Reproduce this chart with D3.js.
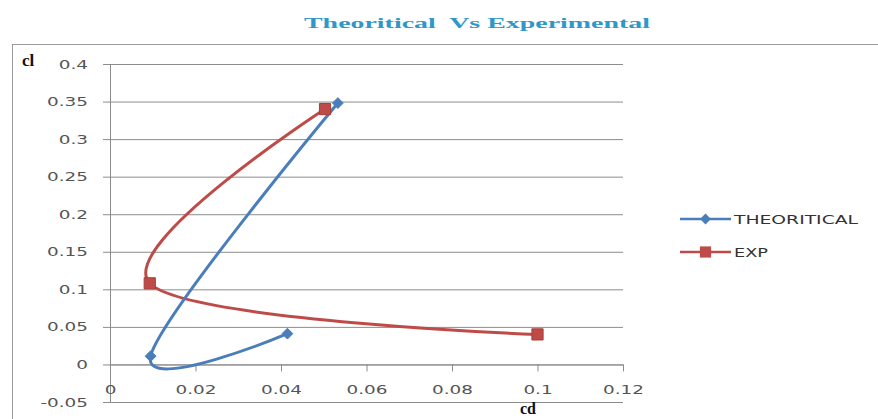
<!DOCTYPE html>
<html>
<head>
<meta charset="utf-8">
<script src="https://cdn.jsdelivr.net/npm/d3@7"></script>
<style>
  html, body { margin: 0; padding: 0; background: #ffffff; }
  svg { display: block; }
  text { white-space: pre; }
</style>
</head>
<body>
<svg id="chart" width="878" height="419"></svg>
<script>
// ---- chart data ----
const chartTitle = "Theoritical  Vs Experimental";
const seriesNames = ["THEORITICAL", "EXP"];
const theoCd = [0.0415, 0.0095, 0.0533];
const theoCl = [0.041, 0.011, 0.348];
const expCd  = [0.1, 0.0093, 0.0503];
const expCl  = [0.04, 0.108, 0.34];
const xTicks = [0, 0.02, 0.04, 0.06, 0.08, 0.1, 0.12];
const yTicks = [-0.05, 0, 0.05, 0.1, 0.15, 0.2, 0.25, 0.3, 0.35, 0.4];
const xTickLabels = ["0", "0.02", "0.04", "0.06", "0.08", "0.1", "0.12"];
const yTickLabels = ["-0.05", "0", "0.05", "0.1", "0.15", "0.2", "0.25", "0.3", "0.35", "0.4"];
const xAxisTitle = "cd";
const yAxisTitle = "cl";

// ---- drawing ----
const svg = d3.select("#chart");
const blue = "#4a7ebb", red = "#be4b48", grid = "#8c8c8c";
const labelFont = "'DejaVu Sans', Verdana, sans-serif";
const serifFont = "'Liberation Serif', 'Times New Roman', serif";

const x = d3.scaleLinear().domain([0, 0.12]).range([110, 623]);
const y = d3.scaleLinear().domain([-0.05, 0.4]).range([402, 64]);

// outer chart frame
svg.append("rect")
  .attr("x", 12.5).attr("y", 44.5).attr("width", 900).attr("height", 420)
  .attr("fill", "none").attr("stroke", "#9a9a9a").attr("stroke-width", 1);

// title
svg.append("text")
  .attr("x", 304).attr("y", 28)
  .attr("textLength", 346).attr("lengthAdjust", "spacingAndGlyphs")
  .attr("font-family", serifFont).attr("font-weight", "bold")
  .attr("font-size", 15).attr("fill", "#2f98c8")
  .text(chartTitle);

// horizontal gridlines
svg.append("g")
  .attr("transform", `translate(${x(0)},0)`)
  .call(d3.axisLeft(y).tickValues(yTicks).tickSize(-(x(0.12) - x(0))).tickFormat(""))
  .call(g => g.select(".domain").remove())
  .call(g => g.selectAll(".tick line").attr("stroke", grid));

// y axis with labels
const yAxis = svg.append("g")
  .attr("transform", `translate(${x(0)},0)`)
  .call(d3.axisLeft(y).tickValues(yTicks).tickSize(7).tickSizeOuter(0).tickPadding(15)
        .tickFormat((d, i) => yTickLabels[i]));
yAxis.select(".domain").attr("stroke", grid);
yAxis.selectAll(".tick line").attr("stroke", grid);
const yText = yAxis.selectAll(".tick text")
  .attr("font-family", labelFont).attr("font-size", 12.5).attr("fill", "#555");

// x axis crossing at cl = 0
const xAxis = svg.append("g")
  .attr("transform", `translate(0,${y(0)})`)
  .call(d3.axisBottom(x).tickValues(xTicks).tickSize(7).tickSizeOuter(0).tickPadding(14)
        .tickFormat((d, i) => xTickLabels[i]));
xAxis.select(".domain").attr("stroke", grid);
xAxis.selectAll(".tick line").attr("stroke", grid);
const xText = xAxis.selectAll(".tick text")
  .attr("font-family", labelFont).attr("font-size", 12.5).attr("fill", "#555");

// wide lettering: a "0.35" label spans about 41px
const probe = yText.filter((d, i) => yTickLabels[i] === "0.35").node();
const stretch = probe ? 41 / probe.getComputedTextLength() : 1.4;
yText.attr("x", -22 / stretch).attr("transform", `scale(${stretch},1)`);
xText.attr("transform", `scale(${stretch},1)`);

// axis titles
svg.append("text").attr("x", 22).attr("y", 66)
  .attr("font-family", serifFont).attr("font-weight", "bold").attr("font-size", 17)
  .attr("fill", "#111").text(yAxisTitle);
svg.append("text").attr("x", 520).attr("y", 414)
  .attr("font-family", serifFont).attr("font-weight", "bold").attr("font-size", 16)
  .attr("fill", "#111").text(xAxisTitle);

// smoothed series lines
const theo = theoCd.map((d, i) => [d, theoCl[i]]);
const exp  = expCd.map((d, i) => [d, expCl[i]]);
const line = d3.line().x(d => x(d[0])).y(d => y(d[1])).curve(d3.curveCardinal.tension(0));

svg.append("path").attr("d", line(exp)).attr("fill", "none")
  .attr("stroke", red).attr("stroke-width", 3).attr("stroke-linejoin", "round");
svg.append("path").attr("d", line(theo)).attr("fill", "none")
  .attr("stroke", blue).attr("stroke-width", 3).attr("stroke-linejoin", "round");

const diamond = d3.symbol().type(d3.symbolDiamond2).size(75);
const square = d3.symbol().type(d3.symbolSquare2).size(160);

svg.append("g").selectAll("path").data(exp).join("path")
  .attr("transform", d => `translate(${x(d[0])},${y(d[1])})`)
  .attr("d", square).attr("fill", red).attr("stroke", "#a83d3a").attr("stroke-width", 1);
svg.append("g").selectAll("path").data(theo).join("path")
  .attr("transform", d => `translate(${x(d[0])},${y(d[1])})`)
  .attr("d", diamond).attr("fill", blue).attr("stroke", blue).attr("stroke-width", 1);

// legend
const legend = svg.append("g");
const legendRows = [
  { name: seriesNames[0], color: blue, sym: diamond, y: 219, len: 124 },
  { name: seriesNames[1], color: red, sym: square, y: 252, len: 34 }
];
legendRows.forEach(r => {
  legend.append("line").attr("x1", 680).attr("x2", 731).attr("y1", r.y).attr("y2", r.y)
    .attr("stroke", r.color).attr("stroke-width", 2.5);
  legend.append("path").attr("transform", `translate(705.5,${r.y})`)
    .attr("d", r.sym).attr("fill", r.color);
  legend.append("text").attr("x", 734).attr("y", r.y + 5)
    .attr("textLength", r.len).attr("lengthAdjust", "spacingAndGlyphs")
    .attr("font-family", labelFont).attr("font-size", 13).attr("fill", "#333")
    .text(r.name);
});
</script>
</body>
</html>
